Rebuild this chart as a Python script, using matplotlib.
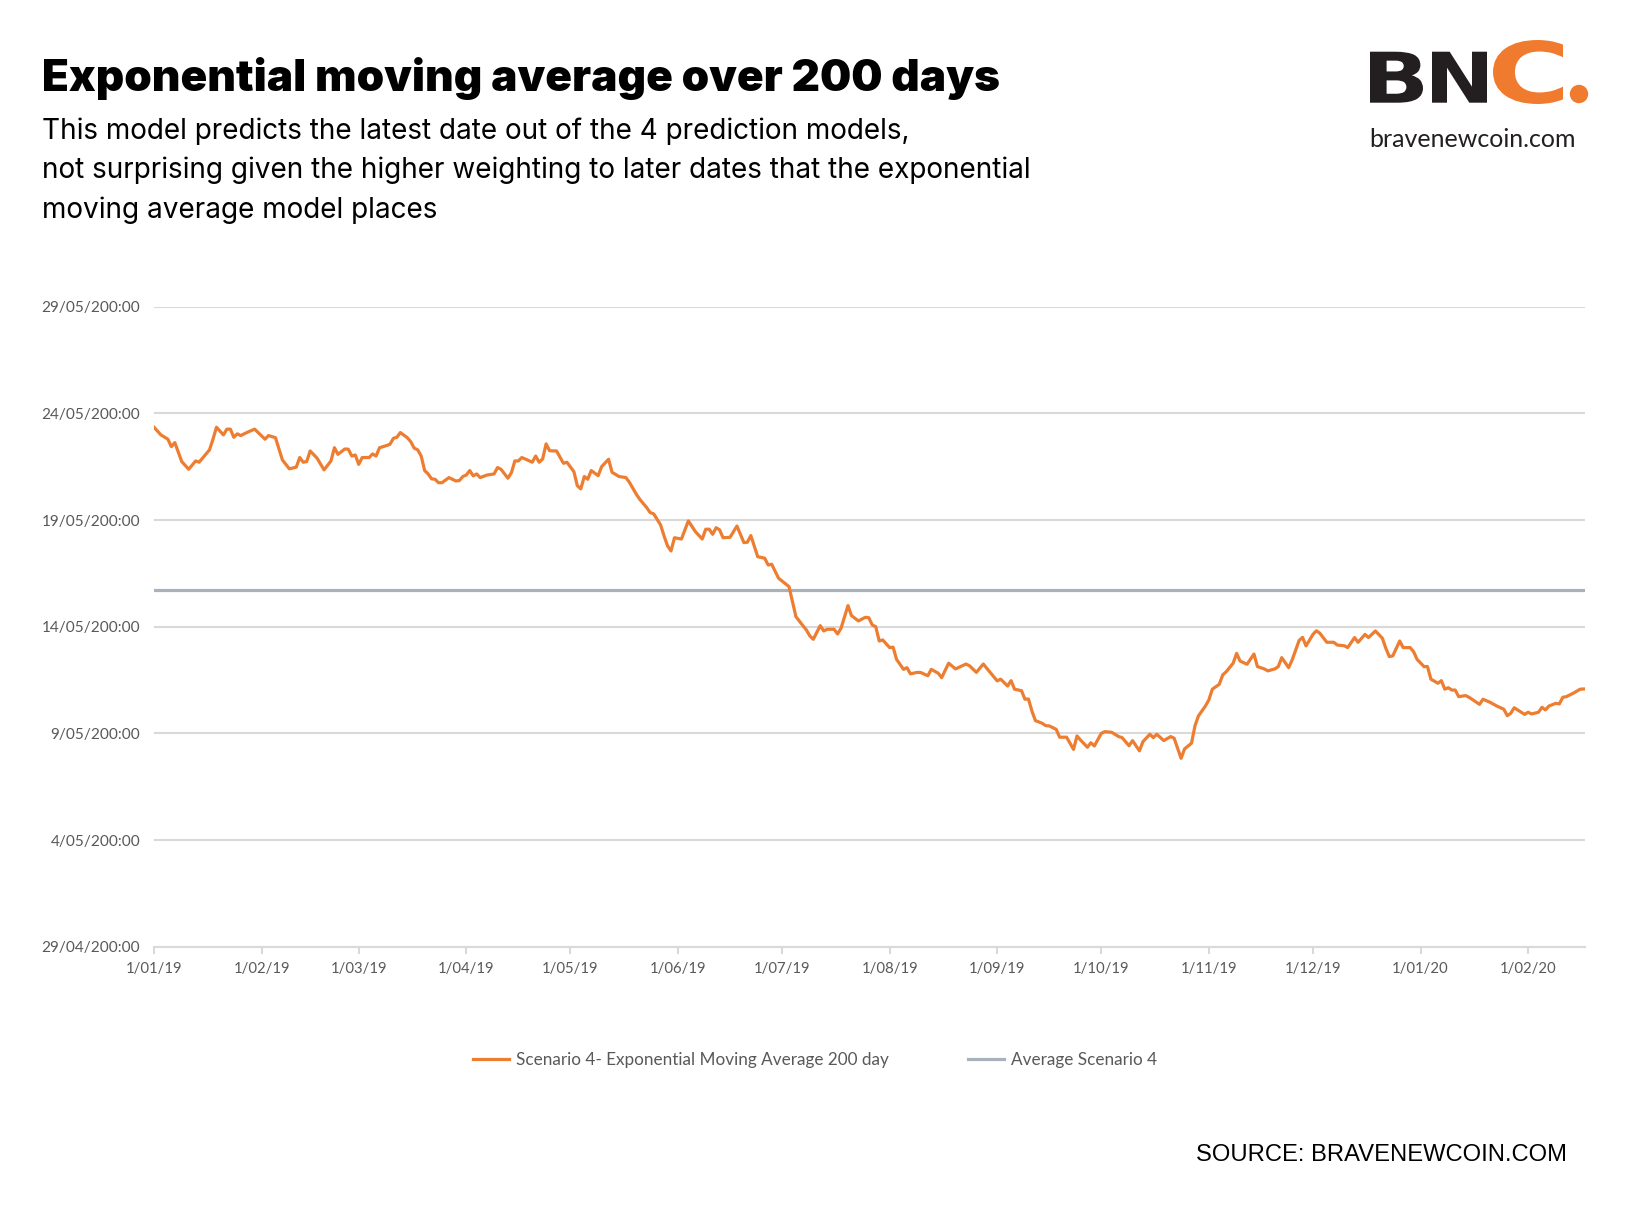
"""
EMA 200 日模型预测图（BNC 风格，白底）

生成 out.png，尺寸 1630x1205。
"""
from __future__ import annotations

import matplotlib
matplotlib.use("Agg")  # 非交互
import matplotlib.dates as mdates
import matplotlib.patheffects as pe
import matplotlib.pyplot as plt
import numpy as np
import pandas as pd
from matplotlib.font_manager import FontProperties
from matplotlib.lines import Line2D
from matplotlib.patches import Circle, PathPatch
from matplotlib.text import TextPath
from matplotlib.ticker import FuncFormatter
from matplotlib.transforms import Affine2D

W, H = 1630, 1205

START = "2019-01-01"   # 横轴起点
BASE = "2020-04-29"    # 纵轴起点（预测日期）

# 距 START 的天数
DAY = [
    0, 2, 4, 5, 6, 8, 10, 12, 13, 16, 17, 18, 20, 21, 22, 23, 24, 25, 27, 29,
    32, 33, 35, 37, 39, 41, 42, 43, 44, 45, 47, 49, 51, 52, 53, 55, 56, 57, 58, 59,
    60, 62, 63, 64, 65, 67, 68, 69, 70, 71, 73, 74, 75, 76, 77, 78, 79, 80, 81, 82,
    83, 85, 87, 88, 89, 90, 91, 92, 93, 94, 96, 98, 99, 100, 102, 103, 104, 105, 106, 107,
    109, 110, 111, 112, 113, 114, 115, 116, 118, 119, 121, 122, 123, 124, 125, 126, 128, 129, 131, 132,
    134, 136, 137, 139, 140, 142, 143, 144, 146, 147, 148, 149, 150, 152, 154, 156, 158, 159, 160, 161,
    162, 163, 164, 166, 168, 169, 170, 171, 172, 174, 176, 177, 178, 180, 181, 183, 184, 185, 187, 188,
    189, 190, 192, 193, 194, 196, 197, 198, 200, 201, 203, 205, 206, 207, 208, 209, 210, 212, 213, 214,
    216, 217, 218, 220, 221, 223, 224, 226, 227, 229, 231, 234, 235, 237, 239, 240, 243, 244, 246, 247,
    248, 250, 251, 252, 253, 254, 256, 257, 258, 260, 261, 263, 265, 266, 267, 269, 270, 271, 273, 274,
    276, 278, 279, 281, 282, 284, 285, 287, 288, 289, 291, 293, 294, 296, 297, 299, 300, 301, 303, 304,
    305, 307, 308, 309, 311, 312, 313, 315, 317, 318, 320, 321, 323, 324, 325, 327, 328, 330, 331, 332,
    334, 335, 336, 338, 340, 341, 343, 344, 346, 347, 349, 350, 352, 354, 355, 356, 357, 359, 360, 362,
    363, 364, 366, 367, 368, 370, 371, 372, 373, 374, 375, 376, 378, 379, 382, 383, 385, 387, 389, 390,
    391, 392, 395, 396, 397, 399, 400, 401, 402, 404, 405, 406, 407, 409, 411, 412,
]

# 预测日期：距 BASE 的天数
PRED = [
    24.35, 23.99, 23.79, 23.44, 23.63, 22.74, 22.38, 22.77, 22.71, 23.29, 23.79, 24.35, 23.99, 24.26, 24.26, 23.88, 24.04, 23.96, 24.12, 24.26,
    23.79, 23.96, 23.86, 22.82, 22.40, 22.48, 22.93, 22.71, 22.74, 23.24, 22.90, 22.35, 22.77, 23.39, 23.08, 23.33, 23.32, 23.00, 23.05, 22.61,
    22.93, 22.93, 23.10, 23.00, 23.39, 23.49, 23.55, 23.83, 23.88, 24.10, 23.86, 23.67, 23.37, 23.29, 23.00, 22.32, 22.16, 21.93, 21.91, 21.75,
    21.75, 21.99, 21.83, 21.85, 22.04, 22.11, 22.32, 22.07, 22.16, 21.99, 22.11, 22.16, 22.46, 22.38, 21.96, 22.22, 22.77, 22.77, 22.93, 22.86,
    22.71, 23.00, 22.71, 22.86, 23.57, 23.25, 23.24, 23.24, 22.66, 22.71, 22.27, 21.61, 21.46, 22.04, 21.91, 22.32, 22.08, 22.50, 22.85, 22.24,
    22.04, 21.99, 21.77, 21.21, 20.97, 20.58, 20.35, 20.29, 19.77, 19.25, 18.79, 18.55, 19.17, 19.11, 19.96, 19.46, 19.11, 19.57, 19.57, 19.33,
    19.64, 19.54, 19.17, 19.19, 19.72, 19.33, 18.94, 18.96, 19.27, 18.28, 18.21, 17.89, 17.93, 17.27, 17.14, 16.88, 16.17, 15.47, 15.05, 14.85,
    14.57, 14.41, 15.05, 14.80, 14.88, 14.88, 14.66, 14.93, 15.99, 15.52, 15.27, 15.44, 15.42, 15.08, 15.00, 14.33, 14.38, 14.02, 14.04, 13.47,
    13.00, 13.08, 12.79, 12.86, 12.85, 12.70, 13.00, 12.82, 12.61, 13.29, 13.02, 13.25, 13.17, 12.86, 13.25, 13.05, 12.46, 12.54, 12.22, 12.47,
    12.07, 12.00, 11.60, 11.61, 11.05, 10.60, 10.47, 10.36, 10.35, 10.19, 9.82, 9.82, 9.25, 9.88, 9.69, 9.35, 9.56, 9.41, 10.00, 10.08,
    10.05, 9.85, 9.80, 9.42, 9.66, 9.18, 9.61, 9.96, 9.80, 9.96, 9.66, 9.85, 9.77, 8.83, 9.27, 9.54, 10.35, 10.82, 11.28, 11.57,
    12.07, 12.30, 12.74, 12.89, 13.29, 13.75, 13.39, 13.24, 13.72, 13.13, 13.02, 12.93, 13.02, 13.13, 13.55, 13.08, 13.44, 14.35, 14.50, 14.10,
    14.64, 14.81, 14.69, 14.27, 14.27, 14.14, 14.11, 14.02, 14.49, 14.27, 14.64, 14.49, 14.80, 14.46, 13.99, 13.60, 13.63, 14.33, 14.02, 14.02,
    13.83, 13.47, 13.13, 13.13, 12.54, 12.35, 12.47, 12.07, 12.14, 12.03, 12.03, 11.72, 11.77, 11.69, 11.36, 11.60, 11.46, 11.28, 11.13, 10.83,
    10.94, 11.20, 10.89, 10.99, 10.91, 10.99, 11.22, 11.10, 11.28, 11.41, 11.38, 11.69, 11.72, 11.88, 12.07, 12.08,
]

AVG_PRED = 16.7        # 平均预测，距 BASE 的天数
X_END = 412.4          # 横轴终点，距 START 的天数
Y_SPAN = 30            # 纵轴范围（天）
Y_STEP = 5

TITLE = "Exponential moving average over 200 days"
SUBTITLE = [
    "This model predicts the latest date out of the 4 prediction models,",
    "not surprising given the higher weighting to later dates that the exponential",
    "moving average model places",
]
SERIES_LABEL = "Scenario 4- Exponential Moving Average 200 day"
AVG_LABEL = "Average Scenario 4"
SOURCE = "SOURCE: BRAVENEWCOIN.COM"
LOGO_URL = "bravenewcoin.com"

_ORANGE = "#ED7D31"
_AVG = "#A9B1BB"
_GRID = "#D9D9D9"
_TICK = "#595959"
_DARK = "#231F20"
_LOGO_ORANGE = "#F07B2F"
_FONT = ["Lato", "DejaVu Sans"]
_HEAD = ["Inter", "DejaVu Sans"]


def _px(x: float, y: float) -> tuple:
    """像素坐标（左上为原点）转 figure 坐标"""
    return x / W, 1 - y / H


def _fit(fig, txt, width_px: float) -> None:
    """按目标像素宽度缩放字号"""
    r = fig.canvas.get_renderer()
    w = txt.get_window_extent(r).width
    txt.set_fontsize(txt.get_fontsize() * width_px / w)


def _glyph(ax, ch, box, color, outline=None) -> None:
    """把单个字形拉伸进像素框 (x0, y0, x1, y1)，y 向下"""
    fp = FontProperties(family="DejaVu Sans", weight="bold")
    tp = TextPath((0, 0), ch, size=100, prop=fp)
    bb = tp.get_extents()
    x0, y0, x1, y1 = box
    tr = (Affine2D().translate(-bb.x0, -bb.y0)
          .scale((x1 - x0) / bb.width, -(y1 - y0) / bb.height)
          .translate(x0, y1))
    patch = PathPatch(tr.transform_path(tp), facecolor=color, edgecolor="none")
    if outline:
        patch.set_path_effects([pe.Stroke(linewidth=5, foreground=outline), pe.Normal()])
    ax.add_patch(patch)


def _fmt_x(v, _pos):
    d = mdates.num2date(v)
    return f"{d.day}/{d.month:02d}/{d:%y}"


def _fmt_y(v, _pos):
    d = mdates.num2date(v)
    return f"{d.day}/{d.month:02d}/{d:%y}0:00"


def render(path: str = "out.png") -> str:
    plt.rcParams["font.family"] = _FONT

    xs = pd.Timestamp(START) + pd.to_timedelta(DAY, unit="D")
    y0 = mdates.date2num(pd.Timestamp(BASE))
    ys = y0 + np.asarray(PRED)

    fig = plt.figure(figsize=(W / 100, H / 100), dpi=100)
    fig.patch.set_facecolor("white")
    ax = fig.add_axes([154 / W, 1 - 946.7 / H, (1585 - 154) / W, 640 / H])

    ax.plot(xs, ys, color=_ORANGE, linewidth=2.3, solid_joinstyle="round", zorder=3)
    ax.axhline(y0 + AVG_PRED, color=_AVG, linewidth=2.3, zorder=2)

    x0 = mdates.date2num(pd.Timestamp(START))
    ax.set_xlim(x0, x0 + X_END)
    ax.set_ylim(y0, y0 + Y_SPAN)
    ax.set_yticks(y0 + np.arange(0, Y_SPAN + 1, Y_STEP))
    ax.yaxis.set_major_formatter(FuncFormatter(_fmt_y))
    ax.xaxis.set_major_locator(mdates.MonthLocator())
    ax.xaxis.set_major_formatter(FuncFormatter(_fmt_x))

    for side in ("top", "right", "left"):
        ax.spines[side].set_visible(False)
    ax.spines["bottom"].set_color(_GRID)
    ax.spines["bottom"].set_linewidth(1.5)
    ax.grid(axis="y", color=_GRID, linewidth=1.5)
    ax.grid(axis="x", visible=False)
    ax.set_axisbelow(True)
    ax.tick_params(axis="y", length=0, pad=10, labelsize=11.1, labelcolor=_TICK)
    ax.tick_params(axis="x", length=5, width=1.5, color=_GRID, pad=6,
                   labelsize=10.7, labelcolor=_TICK)

    # 图例放在图下方居中
    handles = [
        Line2D([], [], color=_ORANGE, linewidth=2.3),
        Line2D([], [], color=_AVG, linewidth=2.3),
    ]
    fig.legend(
        handles, [SERIES_LABEL, AVG_LABEL], loc="center",
        bbox_to_anchor=_px(815, 1060), ncol=2, frameon=False, fontsize=12.3,
        handlelength=2.1, handletextpad=0.43, columnspacing=4.6, labelcolor=_TICK,
    )

    # 标题 + 副标题
    t = fig.text(*_px(41.5, 91), TITLE, fontsize=29, weight="black", color="black",
                 family=_HEAD, va="baseline", ha="left")
    _fit(fig, t, 957)
    subs = []
    for i, line in enumerate(SUBTITLE):
        subs.append(fig.text(*_px(41.5, 138.7 + 39.7 * i), line, fontsize=17.7,
                             color="black", family=_HEAD, va="baseline", ha="left"))
    _fit(fig, subs[1], 990)
    for s in subs:
        s.set_fontsize(subs[1].get_fontsize())

    # BNC 徽标：整幅像素坐标的覆盖层
    lax = fig.add_axes([0, 0, 1, 1], zorder=5)
    lax.set_xlim(0, W)
    lax.set_ylim(H, 0)
    lax.axis("off")
    lax.patch.set_alpha(0)
    _glyph(lax, "B", (1370, 51.7, 1423, 102.7), _DARK)
    _glyph(lax, "N", (1432, 51.7, 1487, 102.7), _DARK)
    _glyph(lax, "C", (1493, 40, 1563, 104), _LOGO_ORANGE, outline="white")
    lax.add_patch(Circle((1579, 94), 9.2, facecolor=_LOGO_ORANGE, edgecolor="none"))
    fig.text(*_px(1369, 147), LOGO_URL, fontsize=18, color=_DARK,
             va="baseline", ha="left")

    src = fig.text(*_px(1567, 1160.7), SOURCE, fontsize=14.8, color="black",
                   family=["Liberation Sans", "DejaVu Sans"], va="baseline", ha="right")
    _fit(fig, src, 368)

    fig.savefig(path, dpi=100, facecolor="white")
    plt.close(fig)
    return path


if __name__ == "__main__":
    print(render())
